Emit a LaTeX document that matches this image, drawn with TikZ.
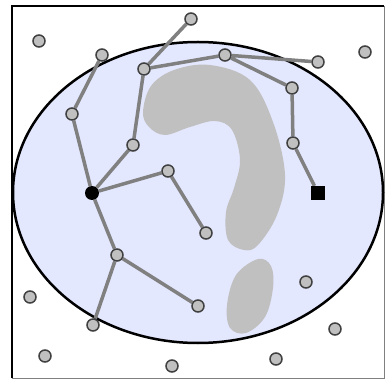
\documentclass[tikz,border=0pt]{standalone}
\usetikzlibrary{backgrounds}
\begin{document}
\begin{tikzpicture}[x=1pt,y=-1pt,
  pt/.style={circle,fill=dotfill,draw=dotline,line width=1.5pt,inner sep=0pt,minimum size=12pt},
  rootpt/.style={circle,fill=black,inner sep=0pt,minimum size=14pt},
  goalpt/.style={rectangle,fill=black,inner sep=0pt,minimum size=14pt},
  link/.style={draw=linkgray,line width=3.5pt}]
\definecolor{dotfill}{RGB}{192,192,192}
\definecolor{dotline}{RGB}{64,64,64}
\definecolor{linkgray}{RGB}{128,128,128}
\definecolor{regionfill}{RGB}{228,232,255}
\definecolor{blob}{RGB}{192,192,192}
\useasboundingbox (0,0) rectangle (385,379);
\begin{pgfonlayer}{background}
% frame
\draw[gray,line width=1pt] (12,378) -- (384,378) -- (384,6);
\draw[black,line width=2pt] (12,378) -- (12,6) -- (384,6);
% region
\draw[fill=regionfill,line width=2.5pt] (198,192.5) ellipse [x radius=185,y radius=150.5];
% question mark
\fill[blob] plot[smooth cycle,tension=0.6] coordinates {(143,112) (151,86) (174,70) (210,65) (250,80) (273,122) (285,175) (277,215) (258,245) (244,250) (228,240) (226,212) (234,188) (240,160) (232,130) (215,121) (190,127) (165,135) (149,127)};
\fill[blob] plot[smooth cycle,tension=0.6] coordinates {(258,259) (271,266) (273,288) (265,317) (246,333) (230,328) (227,305) (236,275)};
\end{pgfonlayer}
% nodes
\node[rootpt] (root) at (92,193) {};
\node[goalpt] (goal) at (318,193) {};
\node[pt] (b) at (102,55) {};
\node[pt] (c) at (72,114) {};
\node[pt] (d) at (144,69) {};
\node[pt] (t) at (191,19) {};
\node[pt] (e) at (225,55) {};
\node[pt] (f) at (318,62) {};
\node[pt] (g) at (292,88) {};
\node[pt] (h) at (293,143) {};
\node[pt] (i) at (133,145) {};
\node[pt] (j) at (168,171) {};
\node[pt] (k) at (206,233) {};
\node[pt] (l) at (117,255) {};
\node[pt] (m) at (93,325) {};
\node[pt] (n) at (198,306) {};
\node[pt] (o1) at (39,41) {};
\node[pt] (o2) at (365,52) {};
\node[pt] (o3) at (30,297) {};
\node[pt] (o4) at (45,356) {};
\node[pt] (o5) at (172,366) {};
\node[pt] (o6) at (276,359) {};
\node[pt] (o7) at (335,329) {};
\node[pt] (o8) at (306,282) {};
% links
\begin{pgfonlayer}{background}
\path[link] (root) -- (c) (c) -- (b)
  (root) -- (i) (i) -- (d) (d) -- (t) (d) -- (e) (e) -- (f) (e) -- (g) (g) -- (h) (h) -- (goal)
  (root) -- (j) (j) -- (k)
  (root) -- (l) (l) -- (m) (l) -- (n);
\end{pgfonlayer}
\end{tikzpicture}
\end{document}
